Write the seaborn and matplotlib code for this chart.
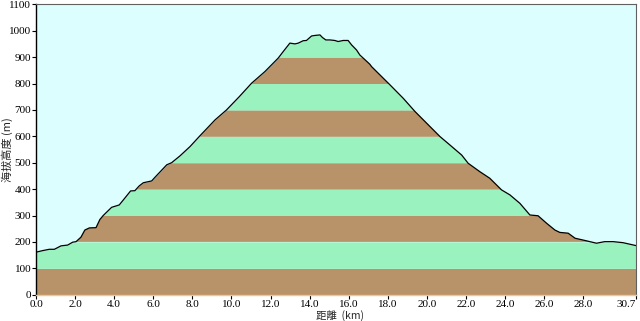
import numpy as np
import matplotlib
matplotlib.use("Agg")
import matplotlib.pyplot as plt
import seaborn as sns
import pandas as pd

dist_km = [0.0, 0.34, 0.68, 0.94, 1.28, 1.62, 1.88, 2.05, 2.3, 2.5, 2.73, 3.07, 3.27, 3.44,
           3.87, 4.26, 4.47, 4.84, 5.06, 5.28, 5.49, 5.92, 6.09, 6.69, 6.94, 7.37, 7.88,
           8.39, 9.16, 9.75, 10.4, 11.03, 11.71, 12.39, 12.65, 12.99, 13.25, 13.42, 13.67,
           13.84, 14.10, 14.27, 14.53, 14.66, 14.83, 15.04, 15.29, 15.46, 15.72, 15.97,
           16.15, 16.40, 16.57, 17.08, 17.17, 18.11, 18.79, 19.39, 20.67, 21.18, 21.78,
           22.11, 22.71, 23.22, 23.82, 24.25, 24.76, 25.27, 25.69, 26.12, 26.55, 26.8,
           27.23, 27.58, 28.17, 28.68, 29.1, 29.53, 30.04, 30.7]
elev_m = [161, 167, 172, 172, 185, 188, 199, 201, 218, 245, 253, 254, 285, 300,
          331, 340, 359, 393, 394, 412, 424, 431, 445, 492, 500, 526, 561,
          602, 662, 700, 750, 801, 845, 896, 921, 953, 950, 953, 962,
          963, 980, 982, 984, 974, 965, 965, 963, 959, 963, 963,
          946, 927, 908, 873, 864, 795, 744, 694, 599, 567, 529,
          498, 466, 441, 397, 378, 346, 302, 299, 271, 245, 236,
          233, 214, 204, 195, 201, 201, 197, 186]

x_ticks = [0, 2, 4, 6, 8, 10, 12, 14, 16, 18, 20, 22, 24, 26, 28, 30.7]
x_tick_labels = ["0.0", "2.0", "4.0", "6.0", "8.0", "10.0", "12.0", "14.0", "16.0",
                 "18.0", "20.0", "22.0", "24.0", "26.0", "28.0", "30.7"]
y_ticks = list(range(0, 1101, 100))

sns.set_theme(style="ticks")
plt.rcParams['font.family'] = ['Liberation Serif', 'Noto Sans CJK TC', 'DejaVu Sans']

df = pd.DataFrame({"dist": dist_km, "elev": elev_m})

fig = plt.figure(figsize=(6.4, 3.21), dpi=100)
ax = fig.add_axes([36/640, 26.3/321, 600/640, 290.4/321])
ax.set_facecolor("#DCFEFE")

# dense sampling for clean band filling
xs = np.linspace(0, 30.7, 3000)
ys = np.interp(xs, dist_km, elev_m)
brown = "#B89268"
green = "#9AF2BF"
for k in range(11):
    lo, hi = k * 100, (k + 1) * 100
    col = brown if k % 2 == 0 else green
    top = np.clip(ys, lo, hi)
    ax.fill_between(xs, lo, top, where=ys > lo, color=col, linewidth=0, interpolate=True)

sns.lineplot(data=df, x="dist", y="elev", ax=ax, color="black", linewidth=0.9)

ax.set_xlim(0, 30.7)
ax.set_ylim(0, 1100)
ax.set_xticks(x_ticks)
ax.set_xticklabels(x_tick_labels)
ax.set_yticks(y_ticks)
ax.tick_params(axis="both", labelsize=8, length=3, width=0.8, pad=0.5, colors="black")
ax.get_xticklabels()[-1].set_horizontalalignment("right")
ax.get_xticklabels()[-1].set_x(30.75)
ax.set_xlabel("")
ax.set_ylabel("")

fig.text(340/640, 5/321, "距離  (km)", fontsize=7.5, ha="center", va="center",
         family=['Noto Sans CJK TC', 'DejaVu Sans'])
fig.text(7/640, (321-150)/321, "海拔高度 (m)", fontsize=8, ha="center", va="center",
         rotation=90, family=['Noto Sans CJK TC', 'DejaVu Sans'])

ax.spines["left"].set_color("black")
ax.spines["left"].set_linewidth(1.0)
ax.spines["bottom"].set_color("#F2C48E")
ax.spines["bottom"].set_linewidth(1.0)
ax.spines["top"].set_color("#606060")
ax.spines["right"].set_color("#606060")
ax.spines["top"].set_linewidth(0.8)
ax.spines["right"].set_linewidth(0.8)

fig.savefig("out.png", dpi=100)
